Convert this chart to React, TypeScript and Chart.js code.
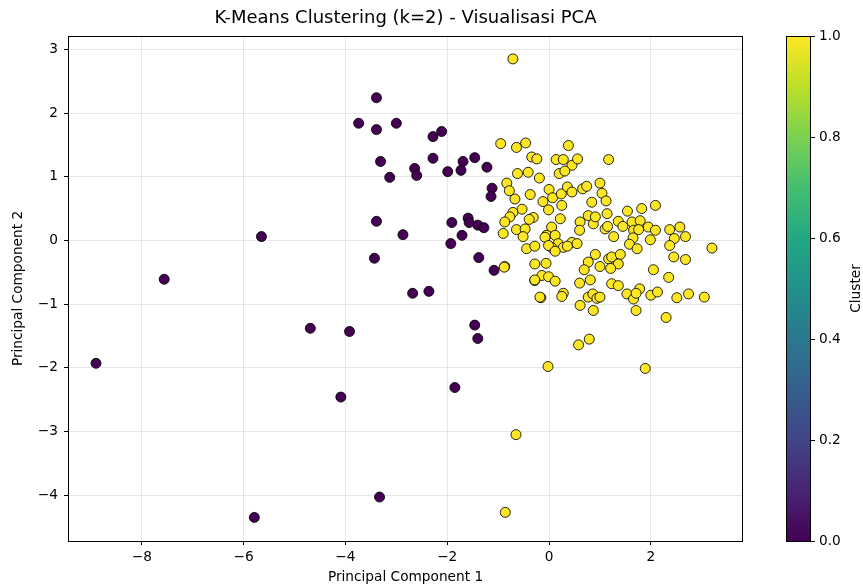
import React, { useEffect, useRef } from "react";
import { Chart, registerables } from "chart.js";

Chart.register(...registerables);

const TITLE = "K-Means Clustering (k=2) - Visualisasi PCA";
const X_LABEL = "Principal Component 1";
const Y_LABEL = "Principal Component 2";
const CBAR_LABEL = "Cluster";

const X_TICKS = [-8, -6, -4, -2, 0, 2];
const Y_TICKS = [-4, -3, -2, -1, 0, 1, 2, 3];
const CBAR_TICKS = [0, 0.2, 0.4, 0.6, 0.8, 1.0];

const X_MIN = -9.45;
const X_MAX = 3.81;
const Y_MIN = -4.72;
const Y_MAX = 3.21;

// Cluster 0 (purple)
const cluster0X = [
  -8.9, -7.56, -5.65, -5.79, -4.69, -3.92, -4.09, -3.33, -3.39, -3.74, -3.39, -3.0,
  -3.31, -3.13, -3.39, -3.43, -2.87, -2.64, -2.6, -2.68, -2.36, -2.28, -2.11, -2.28,
  -1.99, -1.73, -1.69, -1.46, -1.22, -1.12, -1.14, -1.91, -1.59, -1.57, -1.4, -1.28,
  -1.71, -1.93, -1.38, -1.08, -1.46, -1.4, -1.85,
];
const cluster0Y = [
  -1.93, -0.61, 0.06, -4.35, -1.38, -1.43, -2.46, -4.03, 2.24, 1.84, 1.74, 1.84,
  1.24, 0.99, 0.3, -0.28, 0.09, 1.13, 1.02, -0.83, -0.8, 1.63, 1.71, 1.29,
  1.08, 1.1, 1.24, 1.3, 1.15, 0.82, 0.69, 0.28, 0.35, 0.28, 0.24, 0.2,
  0.08, -0.05, -0.27, -0.47, -1.33, -1.54, -2.31,
];

// Cluster 1 (yellow)
const cluster1X = [
  -0.71, -0.95, -0.64, -0.46, -0.34, -0.24, 0.38, 0.14, 0.28, 0.45, 0.56, 0.2,
  0.31, 1.17, -0.62, -0.41, -0.19, -0.83, -0.78, -0.67, -0.37, 0.0, 0.07, 0.24,
  0.36, 0.45, 0.66, 0.74, 1.0, 1.04, -0.12, 0.25, 0.84, 1.12, -0.53, -0.71,
  -0.77, -0.31, -0.39, 0.22, -0.87, -0.9, -0.64, -0.47, -0.51, -0.01, 0.05, -0.05,
  -0.08, 0.61, 0.6, 0.77, 0.87, 0.91, 1.14, 1.1, 1.15, 0.12, 0.18, 0.45,
  0.55, 0.28, -0.44, -0.28, 0.05, -0.01, 0.36, 0.12, 0.91, 1.17, 0.77, 0.69,
  0.81, 0.6, 1.0, -0.87, -0.28, -0.06, -0.28, -0.14, -0.01, 0.12, 0.28, 0.25,
  -0.16, 0.61, 0.77, 0.86, 0.94, 0.87, 0.58, 0.79, -0.02, -0.65, -0.86, -0.28,
  -0.18, 1.27, 1.54, 1.82, 2.09, 1.36, 1.45, 1.63, 1.79, 1.66, 1.76, 1.95,
  2.09, 1.65, 1.58, 1.73, 1.99, 2.37, 2.57, 2.46, 2.68, 2.37, 3.2, 1.23,
  1.4, 1.36, 1.21, 2.45, 2.68, 2.05, 2.35, 1.23, 1.36, 1.53, 1.66, 1.78,
  1.71, 2.0, 2.13, 2.51, 2.74, 3.05, 1.0, 1.71, 2.3, 1.89, -0.88,
];
const cluster1Y = [
  2.85, 1.52, 1.46, 1.53, 1.31, 1.28, 1.49, 1.27, 1.27, 1.18, 1.28, 1.05,
  1.09, 1.27, 1.05, 1.07, 0.98, 0.9, 0.78, 0.65, 0.72, 0.8, 0.67, 0.73,
  0.84, 0.76, 0.81, 0.85, 0.9, 0.74, 0.61, 0.55, 0.6, 0.62, 0.49, 0.44,
  0.37, 0.36, 0.33, 0.34, 0.29, 0.11, 0.17, 0.18, 0.06, 0.48, 0.21, 0.08,
  0.05, 0.29, 0.16, 0.39, 0.26, 0.37, 0.42, 0.18, 0.22, 0.08, -0.05, -0.03,
  -0.05, -0.11, -0.13, -0.09, -0.11, -0.08, -0.09, -0.17, -0.22, -0.29, -0.34, -0.46,
  -0.62, -0.67, -0.41, -0.41, -0.37, -0.36, -0.63, -0.55, -0.57, -0.64, -0.83, -0.88,
  -0.9, -1.02, -0.89, -0.84, -0.91, -1.1, -1.64, -1.55, -1.98, -3.05, -4.27, -0.62,
  -0.89, 0.06, 0.46, 0.5, 0.55, 0.3, 0.22, 0.29, 0.31, 0.16, 0.17, 0.21,
  0.16, 0.04, -0.06, -0.13, 0.01, 0.17, 0.21, 0.03, 0.06, -0.08, -0.12, -0.26,
  -0.22, -0.37, -0.44, -0.26, -0.3, -0.46, -0.58, -0.68, -0.71, -0.84, -0.92, -0.76,
  -0.83, -0.86, -0.81, -0.9, -0.84, -0.89, -0.89, -1.1, -1.21, -2.01, -0.42,
];

const COLOR0 = "#440154";
const COLOR1 = "#fde725";
const VIRIDIS = [
  "#440154", "#482475", "#414487", "#355f8d", "#2a788e", "#21918c",
  "#22a884", "#44bf70", "#7ad151", "#bddf26", "#fde725",
];

const FONT = "'DejaVu Sans', sans-serif";
const LABEL_SIZE = 13.7;
const TITLE_SIZE = 18;

const fmt = (v: number) => String(v).replace("-", "\u2212");

const frameAndColorbar = {
  id: "frameAndColorbar",
  afterDraw(chart: any) {
    const { ctx, chartArea } = chart;
    const { left, top, right, bottom } = chartArea;
    ctx.save();
    // title centred over the axes
    ctx.font = `${TITLE_SIZE}px ${FONT}`;
    ctx.fillStyle = "#000";
    ctx.textAlign = "center";
    ctx.textBaseline = "middle";
    ctx.fillText(TITLE, (left + right) / 2, 18);

    ctx.strokeStyle = "#000";
    ctx.lineWidth = 1;
    ctx.strokeRect(Math.round(left) + 0.5, Math.round(top) + 0.5, Math.round(right - left) - 1, Math.round(bottom - top));

    const cbL = 786;
    const cbR = 811;
    const grad = ctx.createLinearGradient(0, bottom, 0, top);
    VIRIDIS.forEach((c, i) => grad.addColorStop(i / (VIRIDIS.length - 1), c));
    ctx.fillStyle = grad;
    ctx.fillRect(cbL, top, cbR - cbL, bottom - top);
    ctx.strokeStyle = "#000";
    ctx.strokeRect(cbL + 0.5, Math.round(top) + 0.5, cbR - cbL - 1, Math.round(bottom - top));

    ctx.font = `${LABEL_SIZE}px ${FONT}`;
    ctx.fillStyle = "#000";
    ctx.textAlign = "left";
    ctx.textBaseline = "middle";
    CBAR_TICKS.forEach((t) => {
      const y = Math.round(bottom - t * (bottom - top)) + 0.5;
      ctx.beginPath();
      ctx.moveTo(cbR, y);
      ctx.lineTo(cbR + 4, y);
      ctx.stroke();
      ctx.fillText(t.toFixed(1), cbR + 8, y);
    });

    ctx.translate(856, (top + bottom) / 2);
    ctx.rotate(-Math.PI / 2);
    ctx.textAlign = "center";
    ctx.textBaseline = "middle";
    ctx.fillText(CBAR_LABEL, 0, 0);
    ctx.restore();
  },
};

export default function App() {
  const ref = useRef<HTMLCanvasElement | null>(null);

  useEffect(() => {
    document.body.style.margin = "0";
    const canvas = ref.current;
    if (!canvas) return;

    const pts0 = cluster0X.map((x, i) => ({ x, y: cluster0Y[i] }));
    const pts1 = cluster1X.map((x, i) => ({ x, y: cluster1Y[i] }));

    const gridOpts = {
      color: "rgba(176,176,176,0.3)",
      lineWidth: 1,
      drawTicks: true,
      tickLength: 4,
      tickColor: "#000",
      tickWidth: 1,
    };

    const chart = new Chart(canvas, {
      type: "scatter",
      data: {
        datasets: [
          {
            label: "Cluster 0",
            data: pts0,
            backgroundColor: COLOR0,
            borderColor: "rgba(0,0,0,0.85)",
            borderWidth: 1,
            pointRadius: 5,
          },
          {
            label: "Cluster 1",
            data: pts1,
            backgroundColor: COLOR1,
            borderColor: "rgba(0,0,0,0.85)",
            borderWidth: 1,
            pointRadius: 5,
          },
        ],
      },
      options: {
        responsive: false,
        animation: false,
        devicePixelRatio: 1,
        layout: { padding: { left: 0, right: 120, top: 36, bottom: 0 } },
        plugins: {
          legend: { display: false },
          tooltip: { enabled: false },
          title: { display: false },
        },
        scales: {
          x: {
            type: "linear",
            min: X_MIN,
            max: X_MAX,
            afterBuildTicks: (s: any) => {
              s.ticks = X_TICKS.map((v) => ({ value: v }));
            },
            afterFit: (s: any) => {
              s.height = 46;
            },
            border: { display: false },
            grid: gridOpts,
            ticks: {
              color: "#000",
              font: { family: FONT, size: LABEL_SIZE },
              padding: 4,
              maxRotation: 0,
              callback: (v: any) => fmt(Number(v)),
            },
            title: {
              display: true,
              text: X_LABEL,
              color: "#000",
              font: { family: FONT, size: LABEL_SIZE },
              padding: { top: 0, bottom: 1 },
            },
          },
          y: {
            type: "linear",
            min: Y_MIN,
            max: Y_MAX,
            afterBuildTicks: (s: any) => {
              s.ticks = Y_TICKS.map((v) => ({ value: v }));
            },
            afterFit: (s: any) => {
              s.width = 68;
            },
            border: { display: false },
            grid: gridOpts,
            ticks: {
              color: "#000",
              font: { family: FONT, size: LABEL_SIZE },
              padding: 6,
              callback: (v: any) => fmt(Number(v)),
            },
            title: {
              display: true,
              text: Y_LABEL,
              color: "#000",
              font: { family: FONT, size: LABEL_SIZE },
              padding: { top: 10, bottom: 0 },
            },
          },
        },
      },
      plugins: [frameAndColorbar],
    });

    return () => chart.destroy();
  }, []);

  return (
    <div style={{ width: 863, height: 587 }}>
      <canvas ref={ref} width={863} height={587} style={{ display: "block", width: 863, height: 587 }} />
    </div>
  );
}
